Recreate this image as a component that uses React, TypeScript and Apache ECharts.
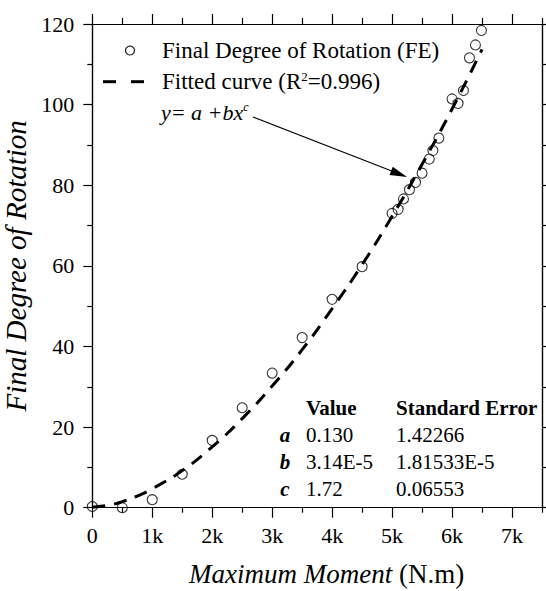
import React, { useEffect, useRef } from "react";
import * as echarts from "echarts";

// ---- data ----
const feMoment = [0, 500, 1000, 1500, 2000, 2500, 3000, 3500, 4000, 4500, 5000, 5100, 5190, 5290, 5390, 5500, 5620, 5680, 5780, 6000, 6100, 6190, 6290, 6390, 6490];
const feRotation = [0.3, 0, 2.0, 8.3, 16.7, 24.8, 33.4, 42.2, 51.7, 59.8, 73.0, 74.0, 76.6, 78.9, 80.7, 83.0, 86.5, 88.6, 91.7, 101.4, 100.3, 103.5, 111.6, 114.8, 118.4];

const fitMoment = [0, 250, 500, 750, 1000, 1500, 2000, 2500, 3000, 3500, 4000, 4500, 5000, 5500, 6000, 6500];
const fitRotation = [0.13, 0.55, 1.5, 2.9, 4.7, 9.2, 15.1, 22.1, 30.2, 39.2, 49.4, 60.3, 72.3, 85.2, 98.9, 113.7];

const xMajorTicks = [0, 1000, 2000, 3000, 4000, 5000, 6000, 7000];
const xMinorTicks = [500, 1500, 2500, 3500, 4500, 5500, 6500, 7500];
const yMajorTicks = [0, 20, 40, 60, 80, 100, 120];
const yMinorTicks = [10, 30, 50, 70, 90, 110];

const legendLabels = ["Final Degree of Rotation (FE)", "Fitted curve (R{sup|2}=0.996)"];
const tableHeader = ["Value", "Standard Error"];
const paramNames = ["a", "b", "c"];
const paramValues = ["0.130", "3.14E-5", "1.72"];
const paramErrors = ["1.42266", "1.81533E-5", "0.06553"];

const FONT = "Liberation Serif, serif";
const X_MIN = 0, X_MAX = 7500, Y_MIN = 0, Y_MAX = 120;

function xAxisDef(position: "bottom" | "top", ticks: number[], len: number, labels: boolean, extra: any = {}) {
  return {
    type: "value",
    position,
    min: X_MIN,
    max: X_MAX,
    splitLine: { show: false },
    axisLine: { show: true, onZero: false, lineStyle: { color: "#000", width: 1.2 } },
    axisTick: { show: true, inside: false, length: len, customValues: ticks, lineStyle: { color: "#000", width: 1.2 } },
    axisLabel: labels
      ? {
          show: true,
          customValues: ticks,
          margin: 17,
          color: "#000",
          fontFamily: FONT,
          fontSize: 22,
          formatter: (v: number) => (v === 0 ? "0" : v / 1000 + "k"),
        }
      : { show: false },
    ...extra,
  };
}

function yAxisDef(position: "left" | "right", ticks: number[], len: number, labels: boolean, extra: any = {}) {
  return {
    type: "value",
    position,
    min: Y_MIN,
    max: Y_MAX,
    splitLine: { show: false },
    axisLine: { show: true, onZero: false, lineStyle: { color: "#000", width: 1.2 } },
    axisTick: { show: true, inside: false, length: len, customValues: ticks, lineStyle: { color: "#000", width: 1.2 } },
    axisLabel: labels
      ? { show: true, customValues: ticks, margin: 18, color: "#000", fontFamily: FONT, fontSize: 22 }
      : { show: false },
    ...extra,
  };
}

export default function App() {
  const ref = useRef<HTMLDivElement>(null);

  useEffect(() => {
    if (!ref.current) return;
    const chart = echarts.init(ref.current, undefined, { renderer: "svg" });

    const scatterData = feMoment.map((m, i) => [m, feRotation[i]]);
    const fitData = fitMoment.map((m, i) => [m, fitRotation[i]]);

    const textBase = { fontFamily: FONT, fill: "#000" };

    // arrow geometry (annotation)
    const ax0 = 253, ay0 = 117, ax1 = 407, ay1 = 177;
    const dx = ax1 - ax0, dy = ay1 - ay0;
    const L = Math.sqrt(dx * dx + dy * dy);
    const ux = dx / L, uy = dy / L;
    const hl = 17, hw = 4.5;
    const bx = ax1 - ux * hl, by = ay1 - uy * hl;

    const tableRows = [435, 462, 489];

    const graphics: any[] = [
      // legend
      { type: "circle", shape: { cx: 130, cy: 50.5, r: 4.5 }, style: { fill: "none", stroke: "#000", lineWidth: 1.1 } },
      {
        type: "text",
        x: 162,
        y: 50.5,
        style: { ...textBase, text: legendLabels[0], fontSize: 23, verticalAlign: "middle" },
      },
      { type: "line", shape: { x1: 103, y1: 81.7, x2: 116, y2: 81.7 }, style: { stroke: "#000", lineWidth: 3 } },
      { type: "line", shape: { x1: 131, y1: 81.7, x2: 144, y2: 81.7 }, style: { stroke: "#000", lineWidth: 3 } },
      {
        type: "text",
        x: 162,
        y: 81.7,
        style: {
          ...textBase,
          text: legendLabels[1],
          fontSize: 23,
          verticalAlign: "middle",
          rich: { sup: { fontFamily: FONT, fontSize: 13, verticalAlign: "top", fill: "#000" } },
        },
      },
      {
        type: "text",
        x: 161,
        y: 112,
        style: {
          ...textBase,
          text: "y= a +bx{sup|c}",
          fontSize: 22,
          fontStyle: "italic",
          verticalAlign: "middle",
          rich: { sup: { fontFamily: FONT, fontSize: 12, fontStyle: "italic", verticalAlign: "top", fill: "#000" } },
        },
      },
      // arrow
      { type: "line", shape: { x1: ax0, y1: ay0, x2: bx + ux * 2, y2: by + uy * 2 }, style: { stroke: "#000", lineWidth: 1.1 } },
      {
        type: "polygon",
        shape: {
          points: [
            [ax1, ay1],
            [bx - uy * hw, by + ux * hw],
            [bx + uy * hw, by - ux * hw],
          ],
        },
        style: { fill: "#000" },
      },
      // table header
      { type: "text", x: 306, y: 408, style: { ...textBase, text: tableHeader[0], fontSize: 21, fontWeight: "bold", verticalAlign: "middle" } },
      { type: "text", x: 396, y: 408, style: { ...textBase, text: tableHeader[1], fontSize: 21, fontWeight: "bold", verticalAlign: "middle" } },
    ];

    paramNames.forEach((p, i) => {
      const y = tableRows[i];
      graphics.push(
        { type: "text", x: 285, y, style: { ...textBase, text: p, fontSize: 21, fontWeight: "bold", fontStyle: "italic", align: "center", verticalAlign: "middle" } },
        { type: "text", x: 306, y, style: { ...textBase, text: paramValues[i], fontSize: 21, verticalAlign: "middle" } },
        { type: "text", x: 396, y, style: { ...textBase, text: paramErrors[i], fontSize: 21, verticalAlign: "middle" } }
      );
    });

    chart.setOption({
      animation: false,
      backgroundColor: "#fff",
      textStyle: { fontFamily: FONT },
      grid: { left: 92.3, right: 4, top: 24, bottom: 83.3, containLabel: false, outerBoundsMode: "none" },
      xAxis: [
        xAxisDef("bottom", xMajorTicks, 10, true, {
          name: "{i|Maximum Moment} (N.m)",
          nameLocation: "middle",
          nameGap: 53,
          nameTextStyle: {
            color: "#000",
            fontFamily: FONT,
            fontSize: 27,
            padding: [0, 0, 0, 19],
            rich: { i: { fontFamily: FONT, fontSize: 27, fontStyle: "italic", color: "#000" } },
          },
        }),
        xAxisDef("bottom", xMinorTicks, 5, false),
        xAxisDef("top", xMajorTicks, 10, false),
        xAxisDef("top", xMinorTicks, 6, false),
      ],
      yAxis: [
        yAxisDef("left", yMajorTicks, 9, true, {
          name: "Final Degree of Rotation",
          nameLocation: "middle",
          nameGap: 41,
          nameTextStyle: { color: "#000", fontFamily: FONT, fontSize: 29, fontStyle: "italic", padding: [0, 0, 0, 0] },
        }),
        yAxisDef("left", yMinorTicks, 5, false),
        yAxisDef("right", yMajorTicks, 8, false),
        yAxisDef("right", yMinorTicks, 5, false),
      ],
      series: [
        {
          type: "line",
          name: "Fitted curve",
          xAxisIndex: 0,
          yAxisIndex: 0,
          data: fitData,
          smooth: true,
          showSymbol: false,
          symbol: "none",
          clip: false,
          lineStyle: { color: "#000", width: 3, type: [13, 9] },
          z: 2,
        },
        {
          type: "scatter",
          name: "Final Degree of Rotation (FE)",
          xAxisIndex: 0,
          yAxisIndex: 0,
          data: scatterData,
          symbol: "circle",
          symbolSize: 10,
          clip: false,
          itemStyle: { color: "rgba(0,0,0,0)", borderColor: "#000", borderWidth: 1.1 },
          z: 3,
        },
      ],
      graphic: graphics,
    });

    return () => chart.dispose();
  }, []);

  return (
    <div
      ref={ref}
      style={{ position: "fixed", left: 0, top: 0, width: 546, height: 591, background: "#fff" }}
    />
  );
}
